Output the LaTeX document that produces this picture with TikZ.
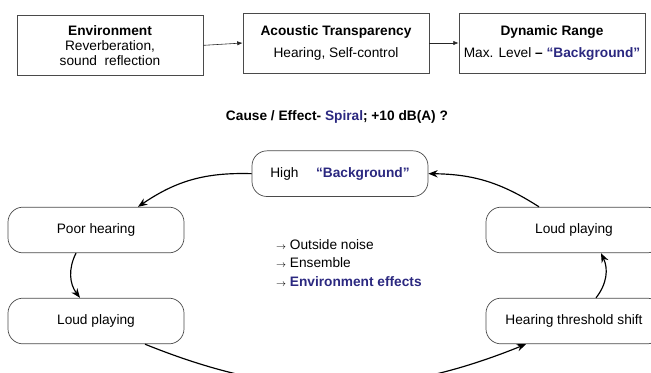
\documentclass[tikz,border=0pt]{standalone}
\usepackage{fontspec}
\setmainfont{Liberation Sans}
\usepackage{xcolor}
\usepackage{tikz}
\usetikzlibrary{arrows.meta,positioning}
\definecolor{bgblue}{HTML}{2B2880}
\definecolor{edgec}{HTML}{4A4A4A}
\newcommand{\bgword}{\textcolor{bgblue}{\textbf{``Background''}}}

\begin{document}
\begin{tikzpicture}[font=\fontsize{11.7}{13}\selectfont,
  topbox/.style={draw=edgec,line width=0.7pt,minimum width=5.58cm,
                 minimum height=1.8cm,align=center},
  loopbox/.style={draw=edgec,line width=0.6pt,rounded corners=0.45cm,
                  minimum width=5.28cm,minimum height=1.37cm},
  flow/.style={-{Latex[length=1.6mm,width=1.3mm]},line width=0.5pt,black!85},
  cyc/.style={-{Stealth[length=2.8mm,width=2.2mm]},line width=1pt,bend right},
]
\useasboundingbox (0,0) rectangle (19.53,-11.16);

% top chain
\node[topbox] (env)  at (3.30,-1.36)  {\textbf{Environment}\\Reverberation,\\sound\ \ reflection};
\node[topbox] (acou) at (10.08,-1.29) {\textbf{Acoustic Transparency}\\[6pt]Hearing, Self-control};
\node[topbox] (dyn)  at (16.56,-1.29) {\textbf{Dynamic Range}\\[6pt]Max. Level \textbf{--} \bgword};

\draw[flow] (env.east) -- (acou.west);
\draw[flow] (acou.east) -- (dyn.west);

\node (title) at (10.11,-3.51)
  {\textbf{Cause / Effect- \textcolor{bgblue}{Spiral}; +10 dB(A) ?}};

% the spiral
\node[loopbox] (high)  at (10.20,-5.21) {High\quad\ \bgword};
\node[loopbox] (poor)  at (2.88,-6.90)  {Poor hearing};
\node[loopbox] (loudl) at (2.88,-9.63)  {Loud playing};
\node[loopbox] (loudr) at (17.22,-6.90) {Loud playing};
\node[loopbox] (shift) at (17.22,-9.63) {Hearing threshold shift};

\node[anchor=west,align=left,font=\fontsize{11.7}{15.5}\selectfont] (why) at (8.16,-7.89)
  {$\scriptstyle\rightarrow$ Outside noise\\
   $\scriptstyle\rightarrow$ Ensemble\\
   $\scriptstyle\rightarrow$ \textcolor{bgblue}{\textbf{Environment effects}}};

\draw[cyc,bend right=18] (high.west) to ([xshift=1.26cm]poor.north);
\draw[cyc,bend right=32] ([xshift=-0.6cm]poor.south) to ([xshift=-0.48cm]loudl.north);
\draw[cyc,bend right=22] ([xshift=1.47cm]loudl.south) to ([xshift=-1.44cm]shift.south);
\draw[cyc,bend right=32] ([xshift=0.66cm]shift.north) to ([xshift=0.81cm]loudr.south);
\draw[cyc,bend right=16] ([xshift=-1.05cm]loudr.north) to (high.east);
\end{tikzpicture}
\end{document}
